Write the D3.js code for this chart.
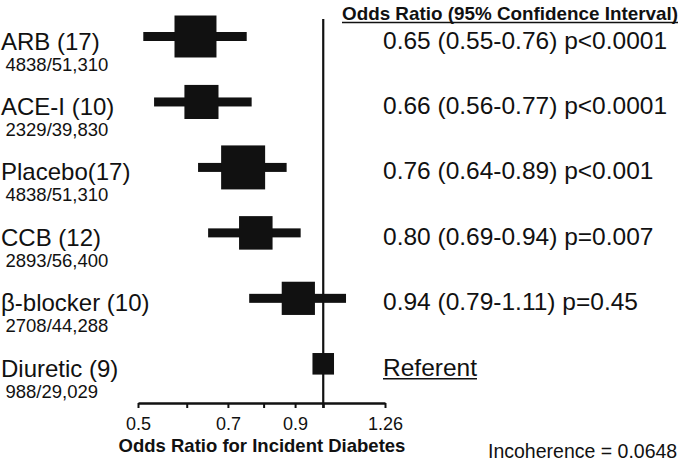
<!DOCTYPE html>
<html>
<head>
<meta charset="utf-8">
<script src="https://cdn.jsdelivr.net/npm/d3@7"></script>
<style>
  html, body { margin: 0; padding: 0; background: #fff; }
  svg { display: block; }
  text { font-family: "Liberation Sans", Arial, Helvetica, sans-serif; fill: #111; }
</style>
</head>
<body>
<svg id="chart" width="685" height="464"></svg>
<script>
// ---- data ----
const categories = ["ARB (17)", "ACE-I (10)", "Placebo(17)", "CCB (12)", "β-blocker (10)", "Diuretic (9)"];
const events = ["4838/51,310", "2329/39,830", "4838/51,310", "2893/56,400", "2708/44,288", "988/29,029"];
// plotted estimates
const oddsRatio = [0.620, 0.634, 0.741, 0.777, 0.911, 1.0];
const ciLow  = [0.510, 0.531, 0.626, 0.650, 0.758, null];
const ciHigh = [0.751, 0.765, 0.872, 0.919, 1.089, null];
// relative box weights (box area)
const weights = [0.91, 0.60, 1.0, 0.58, 0.57, 0.24];
const summaryText = ["0.65 (0.55-0.76) p<0.0001", "0.66 (0.56-0.77) p<0.0001", "0.76 (0.64-0.89) p<0.001",
                     "0.80 (0.69-0.94) p=0.007", "0.94 (0.79-1.11) p=0.45", "Referent"];
const tickValues = [0.5, 0.6, 0.7, 0.8, 0.9, 1.0, 1.26];
const tickLabels = [0.5, 0.7, 0.9, 1.26];
const incoherence = "Incoherence = 0.0648";

// ---- layout ----
const svg = d3.select("#chart");
const x = d3.scaleLog().domain([0.5, 1.26]).range([138, 385]);
const y = d3.scalePoint().domain(categories).range([36.5, 363.8]);
const side = d3.scaleSqrt().domain([0, 1]).range([0, 44]);
const axisY = 403;

const rows = categories.map((c, i) => ({
  cat: c, ev: events[i], or: oddsRatio[i], lo: ciLow[i], hi: ciHigh[i], w: weights[i], txt: summaryText[i]
}));

// reference line at OR = 1
svg.append("line")
  .attr("x1", x(1)).attr("x2", x(1))
  .attr("y1", 19).attr("y2", axisY + 5)
  .attr("stroke", "#111").attr("stroke-width", 2.2);

// CI lines
svg.append("g").selectAll("rect")
  .data(rows.filter(d => d.lo != null))
  .join("rect")
  .attr("x", d => x(d.lo))
  .attr("width", d => x(d.hi) - x(d.lo))
  .attr("y", d => y(d.cat) - 4.5)
  .attr("height", 9)
  .attr("fill", "#111");

// boxes
svg.append("g").selectAll("rect")
  .data(rows)
  .join("rect")
  .attr("x", d => x(d.or) - side(d.w) / 2)
  .attr("y", d => y(d.cat) - side(d.w) / 2)
  .attr("width", d => side(d.w))
  .attr("height", d => side(d.w))
  .attr("fill", "#111");

// left labels
const left = svg.append("g");
left.selectAll("text.main")
  .data(rows).join("text").attr("class", "main")
  .attr("x", 1).attr("y", d => y(d.cat) + 13)
  .style("font-size", "24px")
  .text(d => d.cat);
left.selectAll("text.sub")
  .data(rows).join("text").attr("class", "sub")
  .attr("x", 5.5).attr("y", d => y(d.cat) + 34)
  .style("font-size", "18.5px")
  .text(d => d.ev);

// right summary text
const right = svg.append("g");
right.selectAll("text")
  .data(rows).join("text")
  .attr("x", 383).attr("y", d => y(d.cat) + 12)
  .style("font-size", "24.5px")
  .text(d => d.txt)
  .each(function(d) {
    if (d.txt === "Referent") {
      const len = this.getComputedTextLength();
      right.append("line")
        .attr("x1", 383).attr("x2", 383 + len)
        .attr("y1", y(d.cat) + 15).attr("y2", y(d.cat) + 15)
        .attr("stroke", "#111").attr("stroke-width", 1.6);
    }
  });

// header
const titleW = 336;
svg.append("text")
  .attr("x", 342).attr("y", 20)
  .attr("textLength", titleW).attr("lengthAdjust", "spacingAndGlyphs")
  .style("font-size", "19px").style("font-weight", "bold")
  .text("Odds Ratio (95% Confidence Interval)");
svg.append("line")
  .attr("x1", 342).attr("x2", 342 + titleW)
  .attr("y1", 22.5).attr("y2", 22.5)
  .attr("stroke", "#111").attr("stroke-width", 1.6);

// axis
const axis = d3.axisBottom(x)
  .tickValues(tickValues)
  .tickSize(5)
  .tickSizeOuter(0)
  .tickPadding(9)
  .tickFormat(d => tickLabels.includes(d) ? String(d) : "");
const gAxis = svg.append("g").attr("transform", `translate(0,${axisY})`).call(axis);
gAxis.select(".domain").attr("stroke", "#111").attr("stroke-width", 2.4);
gAxis.selectAll(".tick line").attr("stroke", "#111").attr("stroke-width", 2);
gAxis.selectAll(".tick text")
  .style("font-size", "18px")
  .style("font-family", "'Liberation Sans', Arial, Helvetica, sans-serif")
  .attr("fill", "#111");

svg.append("text")
  .attr("x", 262).attr("y", 451.5)
  .attr("text-anchor", "middle")
  .style("font-size", "18.5px").style("font-weight", "bold")
  .text("Odds Ratio for Incident Diabetes");

svg.append("text")
  .attr("x", 488).attr("y", 458.3)
  .style("font-size", "19.5px")
  .text(incoherence);
</script>
</body>
</html>
